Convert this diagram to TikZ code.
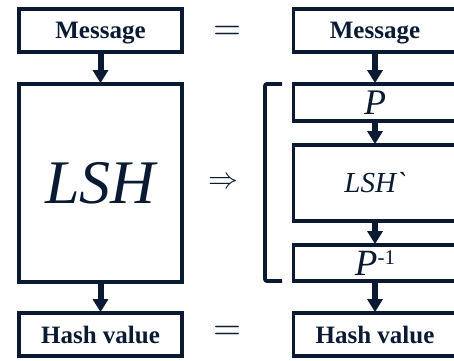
\documentclass[tikz,border=0pt]{standalone}
\usepackage{fontspec}
\usepackage{graphicx}
\setmainfont{Liberation Serif}
\usetikzlibrary{arrows.meta}

\definecolor{navy}{RGB}{10,26,50}

\begin{document}
\begin{tikzpicture}[x=1pt,y=-1pt,>={Triangle[width=15pt,length=13pt]}]

% ----------------------------
% Styles
% ----------------------------
\tikzset{
	blk/.style={draw=navy,line width=3.8pt,text=navy,inner sep=0pt,minimum width=163pt},
	lbl/.style={font=\fontsize{25}{28}\selectfont\bfseries,text depth=0pt},
	flow/.style={->,draw=navy,fill=navy,line width=6pt,shorten >=-1pt},
	brk/.style={draw=navy,line width=3.8pt,rounded corners=2pt},
	rel/.style={text=navy,inner sep=0pt}
}

\useasboundingbox (0,0) rectangle (454,360);

% ============================================================
% LEFT: the plain hash
% ============================================================
\node[blk,lbl,minimum height=43pt] (msgL) at (100.5,30.5) {Message};
\node[blk,minimum height=198pt] (lsh) at (100.5,183)
	{\fontsize{62}{64}\selectfont\itshape LSH};
\node[blk,lbl,minimum height=43pt] (hashL) at (100.5,334.5) {Hash value};

\draw[flow] (msgL.south) -- (lsh.north);
\draw[flow] (lsh.south) -- (hashL.north);

% ============================================================
% RIGHT: P, LSH`, P^{-1}
% ============================================================
\node[blk,lbl,minimum height=43pt] (msgR) at (375,30.5) {Message};
\node[blk,minimum height=37pt] (perm) at (375,102.5)
	{\fontsize{36}{38}\selectfont\itshape P};
\node[blk,minimum height=76pt] (lshp) at (375,183)
	{\fontsize{29}{32}\selectfont\itshape LSH\textasciigrave};
\node[blk,minimum height=36pt] (perminv) at (375,263)
	{\fontsize{37}{38}\selectfont\itshape P\raisebox{11pt}{\fontsize{21}{22}\selectfont\upshape -1}};
\node[blk,lbl,minimum height=43pt] (hashR) at (375,334.5) {Hash value};

\draw[flow] (msgR.south) -- (perm.north);
\draw[flow] (perm.south) -- (lshp.north);
\draw[flow] (lshp.south) -- (perminv.north);
\draw[flow] (perminv.south) -- (hashR.north);

% bracket round the three steps
\coordinate (bt) at (282,84);
\coordinate (bb) at (282,281);
\draw[brk] (bt) -- (265,84) -- (265,281) -- (bb);

% ============================================================
% Relations between the two columns
% ============================================================
\node[rel] (eqTop) at (227,33) {\scalebox{3.6}{$=$}};
\node[rel] (impl) at (223,183) {\scalebox{3}{$\Rightarrow$}};
\node[rel] (eqBot) at (227,333) {\scalebox{3.6}{$=$}};
\end{tikzpicture}
\end{document}
